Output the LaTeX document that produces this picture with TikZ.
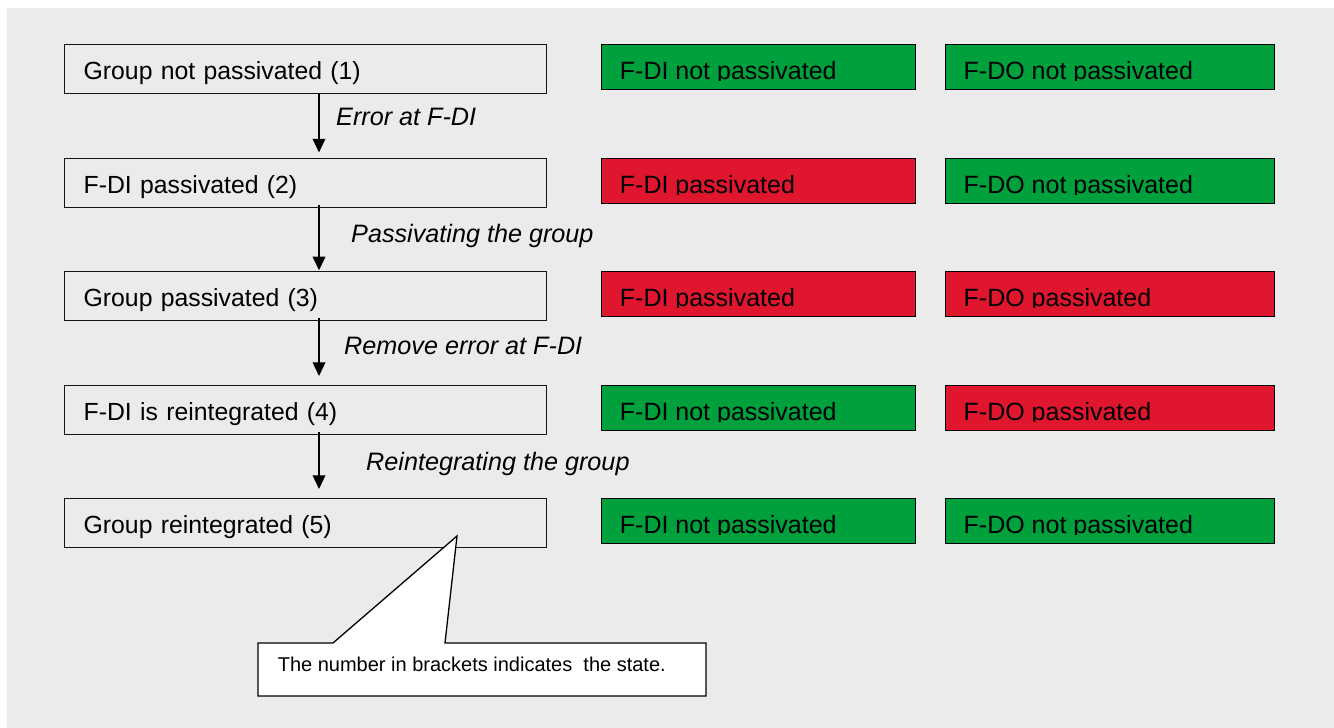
\documentclass[tikz,border=0pt]{standalone}
\usepackage{fontspec}
\setmainfont{Liberation Sans}
\usetikzlibrary{arrows.meta}
\definecolor{bggray}{RGB}{235,235,235}
\definecolor{okgreen}{RGB}{0,161,60}
\definecolor{errred}{RGB}{223,22,46}
\definecolor{edge}{RGB}{20,20,20}
\tikzset{
  statebox/.style={draw=edge, line width=1.3pt, fill=bggray, anchor=north west,
    minimum width=482pt, minimum height=49pt, inner xsep=19pt, inner ysep=0pt,
    text width=444pt, align=left, text height=35pt, text depth=14pt,
    font=\fontsize{24.8}{29}\selectfont},
  dibox/.style={draw=black, line width=1.3pt, anchor=north west,
    minimum width=314pt, minimum height=45pt, inner sep=0pt},
  dobox/.style={dibox, minimum width=329pt},
  ctext/.style={anchor=base west, inner sep=0pt, font=\fontsize{25}{29}\selectfont},
  lab/.style={anchor=base west, inner sep=0pt, font=\fontsize{25.2}{29}\selectfont\itshape},
  arr/.style={draw=black, line width=1.3pt, -{Triangle[length=13.7pt,width=12.7pt]}},
  callout/.style={draw=black, line width=1.3pt, fill=white, line join=miter},
  notetext/.style={anchor=base west, inner sep=0pt, font=\fontsize{20}{24}\selectfont},
}
\begin{document}
\begin{tikzpicture}[x=1pt,y=-1pt]
\useasboundingbox (0,0) rectangle (1334,728);
\fill[white] (0,0) rectangle (1334,728);
\fill[bggray] (7,8) rectangle (1334,728);

\foreach \ri/\ry/\rs/\rac/\rat/\rbc/\rbt in {
  1/44/Group not passivated (1)/okgreen/F-DI not passivated/okgreen/F-DO not passivated,
  2/158/F-DI passivated (2)/errred/F-DI passivated/okgreen/F-DO not passivated,
  3/271/Group passivated (3)/errred/F-DI passivated/errred/F-DO passivated,
  4/385/F-DI is reintegrated (4)/okgreen/F-DI not passivated/errred/F-DO passivated,
  5/498/Group reintegrated (5)/okgreen/F-DI not passivated/okgreen/F-DO not passivated}
{
  \node[statebox] (b\ri) at (64,\ry) {\rs};
  \node[dibox, fill=\rac] (di\ri) at (601,\ry) {};
  \node[dobox, fill=\rbc] (do\ri) at (944.5,\ry) {};
  \begin{scope}
    \clip (590,\ry) rectangle (1290,\ry+36);
    \node[ctext] (dit\ri) at ([xshift=18.7pt,yshift=-35pt]di\ri.north west) {\rat};
    \node[ctext] (dot\ri) at ([xshift=19pt,yshift=-35pt]do\ri.north west) {\rbt};
  \end{scope}
}

\draw[arr] ([xshift=255pt]b1.south west) -- ([xshift=255pt,yshift=5.5pt]b2.north west);
\draw[arr] ([xshift=255pt,yshift=3pt]b2.south west) -- ([xshift=255pt,yshift=0.7pt]b3.north west);
\draw[arr] ([xshift=255pt,yshift=3pt]b3.south west) -- ([xshift=255pt,yshift=9pt]b4.north west);
\draw[arr] ([xshift=255pt,yshift=3pt]b4.south west) -- ([xshift=255pt,yshift=9pt]b5.north west);

\node[lab] (l1) at (336,125.7) {Error at F-DI};
\node[lab] (l2) at (351,242.7) {Passivating the group};
\node[lab] (l3) at (344,354.3) {Remove error at F-DI};
\node[lab] (l4) at (366,470) {Reintegrating the group};

\coordinate (tip) at (457,536);
\draw[callout] (258,643) -- (333,643) -- (tip) -- (445,643) -- (706,643) -- (706,696) -- (258,696) -- cycle;
\node[notetext] (note) at (277.6,671.7) {The number in brackets indicates\ \ the state.};
\end{tikzpicture}
\end{document}
